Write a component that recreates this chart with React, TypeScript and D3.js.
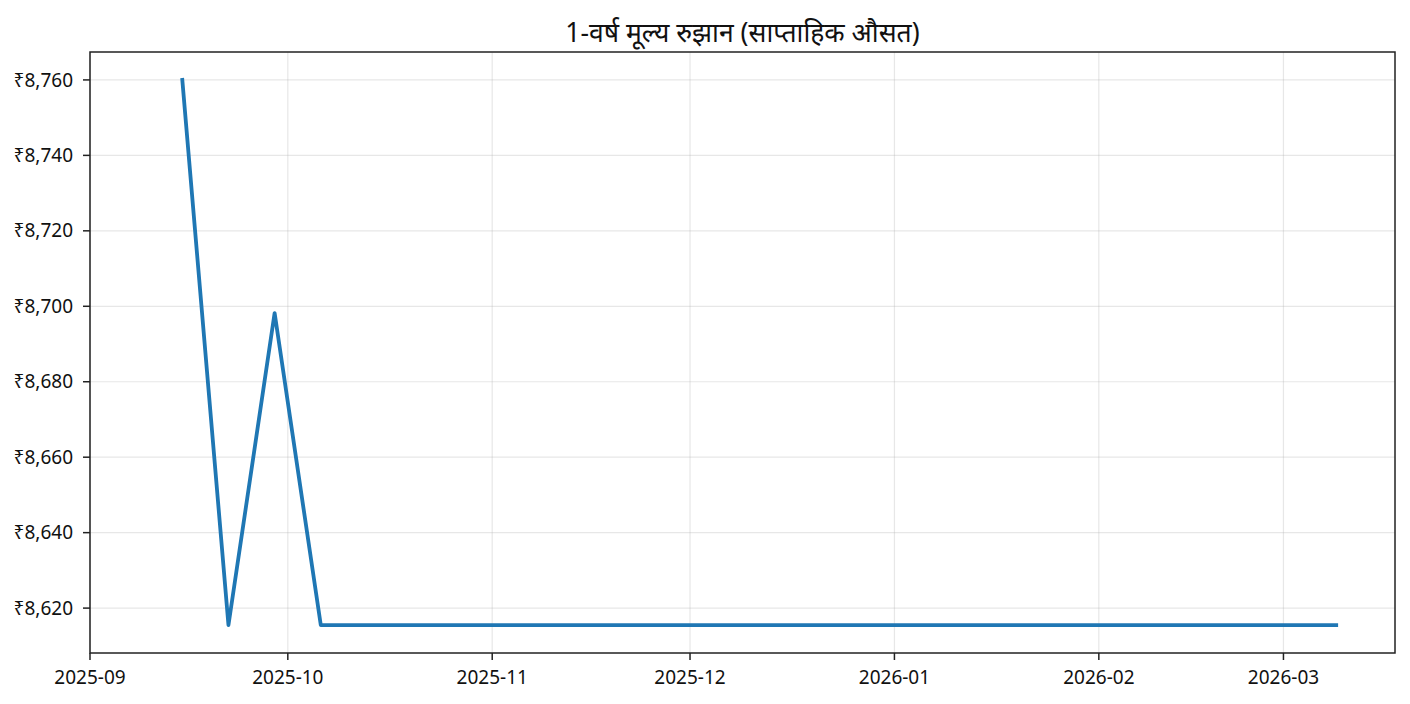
import React from 'react'
import * as d3 from 'd3'

// weekly averages (week starting Monday)
const weeks = [
    '2025-09-15', '2025-09-22', '2025-09-29', '2025-10-06', '2025-10-13', '2025-10-20', '2025-10-27',
    '2025-11-03', '2025-11-10', '2025-11-17', '2025-11-24', '2025-12-01', '2025-12-08', '2025-12-15',
    '2025-12-22', '2025-12-29', '2026-01-05', '2026-01-12', '2026-01-19', '2026-01-26', '2026-02-02',
    '2026-02-09', '2026-02-16', '2026-02-23', '2026-03-02', '2026-03-09',
]
const prices = [
    8760, 8615.5, 8698.2, 8615.5, 8615.5, 8615.5, 8615.5,
    8615.5, 8615.5, 8615.5, 8615.5, 8615.5, 8615.5, 8615.5,
    8615.5, 8615.5, 8615.5, 8615.5, 8615.5, 8615.5, 8615.5,
    8615.5, 8615.5, 8615.5, 8615.5, 8615.5,
]
const yTicks = [8620, 8640, 8660, 8680, 8700, 8720, 8740, 8760]
const xTickLabels = ['2025-09', '2025-10', '2025-11', '2025-12', '2026-01', '2026-02', '2026-03']
const title = '1-वर्ष मूल्य रुझान (साप्ताहिक औसत)'

type Datum = { date: Date, value: number }

export default function App() {
    const width = 1410
    const height = 704
    const margin = { top: 52, right: 15, bottom: 51, left: 90 }
    const innerWidth = width - margin.left - margin.right
    const innerHeight = height - margin.top - margin.bottom

    const parse = d3.utcParse('%Y-%m-%d')
    const parseMonth = d3.utcParse('%Y-%m')
    const data: Datum[] = weeks.map((w, i) => ({ date: parse(w)!, value: prices[i] }))

    const x = d3.scaleUtc()
        .domain([parse('2025-09-01')!, new Date(Date.UTC(2026, 2, 17, 22))])
        .range([0, innerWidth])

    const y = d3.scaleLinear()
        .domain([8608.1, 8767.4])
        .range([innerHeight, 0])

    const line = d3.line<Datum>()
        .x(d => x(d.date))
        .y(d => y(d.value))

    const fmt = d3.format(',')
    const font = '"Noto Sans", "Noto Sans Devanagari", "DejaVu Sans", sans-serif'

    return (
        <div style={{ position: 'absolute', left: 0, top: 0 }}>
            <svg width={width} height={height} style={{ display: 'block', background: '#fff' }} fontFamily={font}>
                <text x={margin.left + innerWidth / 2} y={42} textAnchor='middle' fontSize={26.5} fill='#111'>{title}</text>
                <g transform={`translate(${margin.left},${margin.top})`}>
                    {/* grid */}
                    {xTickLabels.map(t => {
                        const xx = x(parseMonth(t)!)
                        return <line key={'gx' + t} x1={xx} x2={xx} y1={0} y2={innerHeight} stroke='#b0b0b0' strokeOpacity={0.3} strokeWidth={1.2} />
                    })}
                    {yTicks.map(t => (
                        <line key={'gy' + t} x1={0} x2={innerWidth} y1={y(t)} y2={y(t)} stroke='#b0b0b0' strokeOpacity={0.3} strokeWidth={1.2} />
                    ))}

                    <path d={line(data) ?? ''} fill='none' stroke='#1f77b4' strokeWidth={3.8} strokeLinejoin='round' strokeLinecap='square' />

                    {/* frame */}
                    <rect x={0} y={0} width={innerWidth} height={innerHeight} fill='none' stroke='#222' strokeWidth={1.5} />

                    {/* y axis */}
                    {yTicks.map(t => (
                        <g key={'ty' + t} transform={`translate(0,${y(t)})`}>
                            <line x1={-7} x2={0} stroke='#222' strokeWidth={1.5} />
                            <text x={-17} dy='0.35em' textAnchor='end' fontSize={19} fill='#111'>{'₹' + fmt(t)}</text>
                        </g>
                    ))}

                    {/* x axis */}
                    {xTickLabels.map(t => (
                        <g key={'tx' + t} transform={`translate(${x(parseMonth(t)!)},${innerHeight})`}>
                            <line y1={0} y2={7} stroke='#222' strokeWidth={1.5} />
                            <text y={31} textAnchor='middle' fontSize={19} fill='#111'>{t}</text>
                        </g>
                    ))}
                </g>
            </svg>
        </div>
    )
}
